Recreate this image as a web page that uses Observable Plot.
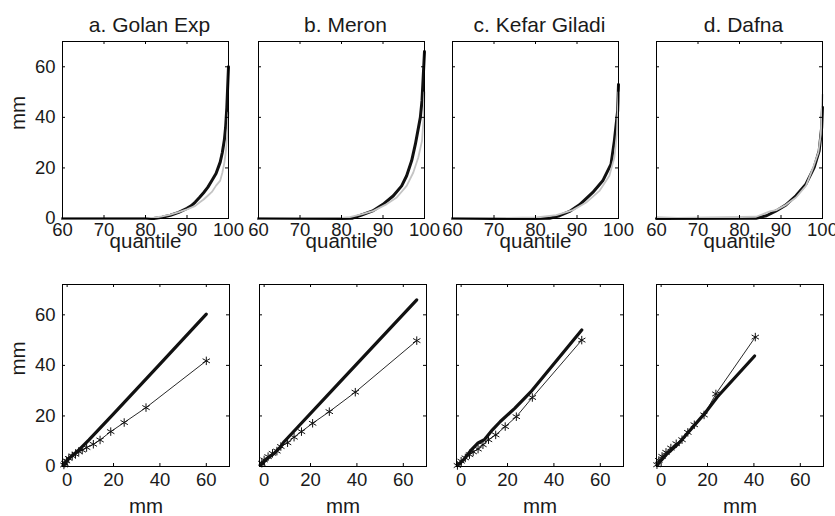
<!DOCTYPE html>
<html>
<head>
<meta charset="utf-8">
<script src="https://cdn.jsdelivr.net/npm/d3@7"></script>
<script src="https://cdn.jsdelivr.net/npm/@observablehq/plot@0.6"></script>
<style>
  html, body { margin: 0; padding: 0; background: white; }
  #chart { position: relative; width: 835px; height: 516px; overflow: hidden; background: white; }
</style>
</head>
<body>
<div id="chart"></div>
<script>
// ---------- data ----------
const stations = ["a. Golan Exp", "b. Meron", "c. Kefar Giladi", "d. Dafna"];

const quantileTicks = [60, 70, 80, 90, 100];
const mmTicks = [0, 20, 40, 60];
const qqTicks = [0, 20, 40, 60];

// top row: [quantile, mm] for observed (black) and model (gray)
const golanObs = [[60,0],[80,0],[82,0],[84,0.5],[86,1.3],[88,2.4],[90,4],[91,5],[92,6.5],[93,8.3],[94,10.2],[95,12.3],[96,15],[97,17.8],[98,22.3],[98.5,26],[99,31],[99.3,36],[99.6,44],[100,60]];
const golanModel = [[60,0],[80,0],[82,0.3],[84,0.8],[86,1.5],[88,2.5],[90,3.6],[92,5],[93,6.3],[94,7.5],[95,9],[96,10.5],[97,13],[98,15],[98.5,18],[99,22],[99.4,27],[99.7,33],[100,42]];

const meronObs = [[60,0],[80,0],[82.5,0.1],[85,1.5],[87.5,3],[90,5.6],[92.5,9],[94.5,12.9],[95.7,16.9],[96.9,22.8],[97.8,29.4],[99,40],[99.4,46.6],[100,66]];
const meronModel = [[60,0],[80,0.2],[82,0.5],[85,1.7],[87.7,3],[90.9,5.7],[93.3,8.3],[95.7,12.9],[97.3,18.2],[98.5,24.1],[99.4,30.7],[99.8,40],[100,50]];

const kefarObs = [[60,0],[80,0],[83.4,0.1],[85.8,1.1],[88.2,2.8],[90.6,5.4],[93.8,10.3],[96.2,14.9],[98.2,21.5],[99,30.7],[99.8,42.6],[100,53]];
const kefarModel = [[60,0],[80.2,0.4],[85,1.3],[89,3.3],[92.2,6.3],[95.4,10.9],[97.8,16.9],[99,24.1],[99.6,33.4],[100,50]];

const dafnaObs = [[60,0],[84,0.1],[86.5,1.1],[88.8,3],[91.2,5.4],[93.6,9],[96,13.6],[98,20.2],[99.2,26.8],[99.8,36],[100,44]];
const dafnaModel = [[60,0.5],[65,0.2],[84,0.7],[87.3,2.8],[88.8,3.3],[91.2,5.4],[93.6,8.3],[96,12.9],[97.6,19.5],[99,26.1],[99.6,33.4],[100,49]];

// bottom row: Q-Q [mm, mm]; thick line and asterisk series
const golanThick = [[-1.4,0.6],[0.7,3.2],[4.3,5.9],[6.5,7.9],[9.4,10.5],[20,20.8],[40,40.5],[60,60.3]];
const golanStars = [[-1.4,0.6],[-1,1.3],[-0.3,2.2],[0.7,3.2],[2.2,4.2],[3.6,4.8],[5,5.9],[6.5,6.5],[8.4,7.5],[11.3,8.8],[14.2,10.5],[18.8,13.8],[24.6,17.4],[34,23.3],[60,41.8]];

const meronThick = [[-1.4,0.6],[1.4,3.2],[4.3,5.2],[7.2,7.9],[8.6,9.8],[30,30.8],[65.8,65.9]];
const meronStars = [[-1,1.3],[0,2.6],[1.7,3.9],[3.6,5.2],[5.5,6.1],[7.2,7.9],[10.1,9.4],[12.9,11.6],[16.1,13.8],[20.9,17.1],[28.1,21.7],[39.3,29.4],[65.8,49.8]];

const kefarThick = [[-1.6,0.4],[1.1,2.7],[4.5,6.7],[7.3,9.3],[10,10.6],[13.5,14.5],[16.9,17.8],[23.1,23],[30,29.5],[52,54]];
const kefarStars = [[-1.6,0.4],[0,2.1],[1.8,3.4],[3.6,4.7],[5.2,5.8],[7.3,6.9],[9.4,8.6],[11.8,10.6],[14.9,12.5],[19,15.8],[23.8,19.7],[30.7,27.3],[52,50]];

const dafnaThick = [[-1.8,0.5],[2,4.5],[7.6,9.2],[18.8,21],[24.3,27.6],[40.3,43.7]];
const dafnaStars = [[-1.8,0.7],[-1,2.4],[0.4,4],[2.1,5.6],[4.2,7.3],[6.5,9],[9,10.6],[11.5,13.5],[14.3,16.5],[18.5,20.4],[23.6,28.7],[40.6,51.2]];

const topSeries = [[golanObs, golanModel],[meronObs, meronModel],[kefarObs, kefarModel],[dafnaObs, dafnaModel]];
const bottomSeries = [[golanThick, golanStars],[meronThick, meronStars],[kefarThick, kefarStars],[dafnaThick, dafnaStars]];

// ---------- layout ----------
const chart = document.getElementById("chart");
const ML = 60, MR = 20, MT = 40, MB = 52;
const FONT = "'Liberation Sans', Arial, Helvetica, sans-serif";
const TICK_FS = 18.5, LABEL_FS = 20.5, TITLE_FS = 21;
const topLefts = [62, 258, 452, 656];
const botLefts = [62, 259, 456, 656];

function panel({left, top, w, h, xDomain, yDomain, xTicks, yTicks, showY, title, xLabel, xLabelDy, tickPad, lines}) {
  const tick = 3;
  const marks = [
    ...lines,
    Plot.frame({stroke: "black", strokeWidth: 1}),
    Plot.tickX(xTicks, {x: d => d, insetTop: h - tick, stroke: "black"}),
    Plot.tickX(xTicks, {x: d => d, insetBottom: h - tick, stroke: "black"}),
    Plot.tickY(yTicks, {y: d => d, insetRight: w - tick, stroke: "black"}),
    Plot.tickY(yTicks, {y: d => d, insetLeft: w - tick, stroke: "black"}),
    Plot.axisX({anchor: "bottom", ticks: xTicks, tickSize: 0, tickPadding: tickPad, label: null, fontSize: TICK_FS, tickFormat: d => String(d)}),
    Plot.text([xLabel], {frameAnchor: "bottom", dy: xLabelDy, lineAnchor: "middle", fontSize: LABEL_FS})
  ];
  if (showY) {
    marks.push(Plot.axisY({anchor: "left", ticks: yTicks, tickSize: 0, tickPadding: 7, label: null, fontSize: TICK_FS, tickFormat: d => String(d)}));
    marks.push(Plot.text(["mm"], {frameAnchor: "left", dx: -44, rotate: -90, lineAnchor: "middle", fontSize: LABEL_FS}));
  }
  if (title) marks.push(Plot.text([title], {frameAnchor: "top", dy: -16, dx: 4, lineAnchor: "middle", fontSize: TITLE_FS}));
  const svg = Plot.plot({
    width: w + ML + MR,
    height: h + MT + MB,
    marginLeft: ML, marginRight: MR, marginTop: MT, marginBottom: MB,
    x: {domain: xDomain, axis: null},
    y: {domain: yDomain, axis: null},
    style: {background: "transparent", overflow: "visible", fontFamily: FONT, fontSize: TICK_FS + "px", color: "#1a1a1a"},
    marks
  });
  svg.style.position = "absolute";
  svg.style.left = (left - ML) + "px";
  svg.style.top = (top - MT) + "px";
  svg.style.maxWidth = "none";
  chart.appendChild(svg);
}

stations.forEach((name, i) => {
  const [obs, model] = topSeries[i];
  panel({
    left: topLefts[i], top: 41, w: 166, h: 177,
    xDomain: [60, 100], yDomain: [0, 70],
    xTicks: quantileTicks, yTicks: mmTicks, showY: i === 0,
    title: name, xLabel: "quantile", xLabelDy: 23, tickPad: 4,
    lines: [
      Plot.line(obs, {x: d => d[0], y: d => d[1], stroke: "#111", strokeWidth: 3, strokeLinejoin: "round"}),
      Plot.line(model, {x: d => d[0], y: d => d[1], stroke: "#c4c4c4", strokeWidth: 1.8, strokeLinejoin: "round"})
    ]
  });
  const [thick, stars] = bottomSeries[i];
  panel({
    left: botLefts[i], top: 284, w: 167, h: 182,
    xDomain: [-2, 70], yDomain: [0, 72],
    xTicks: qqTicks, yTicks: qqTicks, showY: i === 0,
    title: null, xLabel: "mm", xLabelDy: 40, tickPad: 6,
    lines: [
      Plot.line(thick, {x: d => d[0], y: d => d[1], stroke: "#111", strokeWidth: 3.2, strokeLinejoin: "round"}),
      Plot.line(stars, {x: d => d[0], y: d => d[1], stroke: "#111", strokeWidth: 0.9}),
      Plot.dot(stars, {x: d => d[0], y: d => d[1], symbol: "asterisk", r: 4, stroke: "#111", strokeWidth: 1})
    ]
  });
});
</script>
</body>
</html>
